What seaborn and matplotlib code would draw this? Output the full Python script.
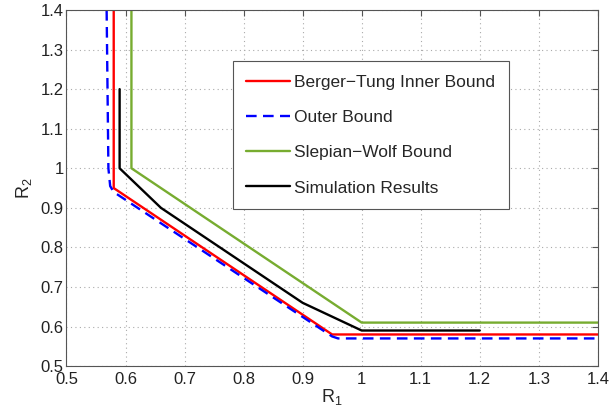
import matplotlib
matplotlib.use("Agg")
import matplotlib.pyplot as plt
import seaborn as sns
import pandas as pd

sns.set_style("white")
plt.rcParams['font.family'] = ['Liberation Sans', 'DejaVu Sans']
plt.rcParams['mathtext.fontset'] = 'custom'
plt.rcParams['mathtext.rm'] = 'Liberation Sans'
plt.rcParams['mathtext.it'] = 'Liberation Sans'

# Data
bt_x = [0.58, 0.58, 0.95, 1.4]
bt_y = [1.4, 0.95, 0.58, 0.58]
outer_x = [0.568, 0.571, 0.574, 0.58, 0.95, 0.96, 1.4]
outer_y = [1.4, 1.0, 0.955, 0.94, 0.575, 0.57, 0.57]
sw_x = [0.61, 0.61, 1.0, 1.4]
sw_y = [1.4, 1.0, 0.61, 0.61]
sim_x = [0.59, 0.59, 0.66, 0.9, 1.0, 1.2]
sim_y = [1.2, 1.0, 0.9, 0.66, 0.59, 0.59]
labels = ["Berger\u2212Tung Inner Bound", "Outer Bound", "Slepian\u2212Wolf Bound", "Simulation Results"]
x_ticks = [0.5, 0.6, 0.7, 0.8, 0.9, 1.0, 1.1, 1.2, 1.3, 1.4]
x_ticklabels = ["0.5", "0.6", "0.7", "0.8", "0.9", "1", "1.1", "1.2", "1.3", "1.4"]
y_ticks = x_ticks
y_ticklabels = x_ticklabels

fig = plt.figure(figsize=(6.1, 4.17), dpi=100)
ax = fig.add_axes([0.109, 0.122, 0.871, 0.854])

series = [
    (bt_x, bt_y, "#ff0000", "-"),
    (outer_x, outer_y, "#0000ff", (0, (4.5, 2.7))),
    (sw_x, sw_y, "#77ac30", "-"),
    (sim_x, sim_y, "#000000", "-"),
]
for (xs, ys, c, ls), lab in zip(series, labels):
    df = pd.DataFrame({"x": xs, "y": ys})
    sns.lineplot(data=df, x="x", y="y", sort=False, estimator=None, ax=ax,
                 color=c, linestyle=ls, linewidth=1.7, label=lab)

ax.set_xlim(0.5, 1.4)
ax.set_ylim(0.5, 1.4)
ax.set_xticks(x_ticks)
ax.set_xticklabels(x_ticklabels)
ax.set_yticks(y_ticks)
ax.set_yticklabels(y_ticklabels)
ax.tick_params(direction='in', length=4, top=True, right=True, labelsize=12,
               color='#555555', labelcolor='#222222', pad=2)
ax.tick_params(axis='x', pad=4)
ax.grid(True, linestyle=(0, (1, 3)), color='#aaaaaa', linewidth=0.8)
for s in ax.spines.values():
    s.set_color('#555555')
    s.set_linewidth(0.8)
ax.set_xlabel(r"$\mathregular{R_1}$", fontsize=13, labelpad=0)
ax.set_ylabel(r"$\mathregular{R_2}$", fontsize=13, labelpad=5)

leg = ax.legend(loc='upper left', bbox_to_anchor=(0.313, 0.857), fontsize=12.5,
                frameon=True, fancybox=False, handlelength=2.5, handletextpad=0.25,
                labelspacing=1.16, borderpad=0.78, borderaxespad=0)
leg.get_frame().set_edgecolor('#555555')
leg.get_frame().set_linewidth(0.8)
leg.get_frame().set_alpha(1)

fig.savefig("out.png", dpi=100)
